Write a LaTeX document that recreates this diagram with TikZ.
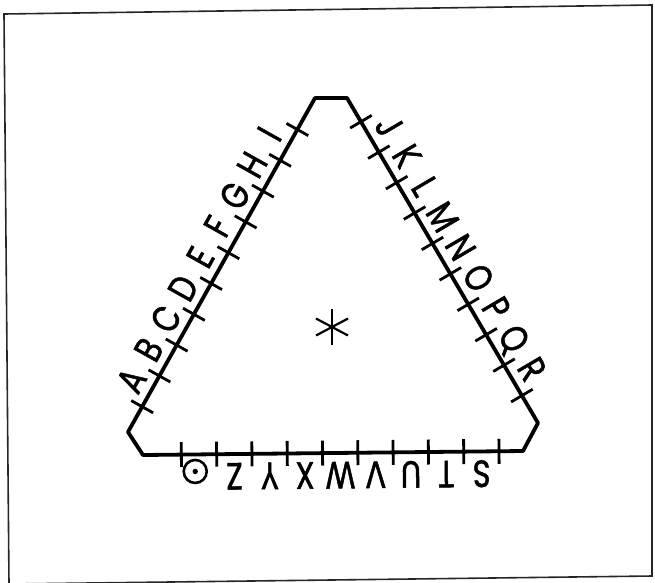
\documentclass[tikz,border=0pt]{standalone}
\usepackage{fontspec}
\setmainfont{Poppins}[FakeStretch=0.8, FakeBold=1.3]
\usetikzlibrary{calc}
\begin{document}
\begin{tikzpicture}[x=1pt,y=-1pt,
  outline/.style={line width=3.8pt, line join=round, line cap=round},
  tickmark/.style={line width=2.8pt},
  lbl/.style={anchor=base, inner sep=0pt, font=\fontsize{38}{38}\selectfont},
  framebox/.style={line width=1.6pt, draw=black!85},
  astline/.style={line width=2.2pt}]
\useasboundingbox (0,0) rectangle (655,582);
\draw[framebox] (4,14) -- (652,5) -- (652,576) -- (9,584) -- cycle;
% truncated triangle
\coordinate (P1) at (128,432);
\coordinate (P2) at (315,98);
\coordinate (P3) at (347,98);
\coordinate (P4) at (538,423);
\coordinate (P5) at (523,451);
\coordinate (P6) at (143,455);
\draw[outline] (P1) -- (P2) -- (P3) -- (P4) -- (P5) -- (P6) -- cycle;
% ticks
\foreach \k in {0,...,9} {
  \pgfmathsetmacro\da{29+35.3*\k}
  \pgfmathsetmacro\db{27.5+35.3*\k}
  \pgfmathsetmacro\dc{24+35.3*\k}
  \coordinate (ta) at ($(P1)!\da pt!(P2)$);
  \coordinate (tb) at ($(P3)!\db pt!(P4)$);
  \coordinate (tc) at ($(P5)!\dc pt!(P6)$);
  \draw[tickmark] ($(ta)!12.5pt!90:(P2)$) -- ($(ta)!12.5pt!-90:(P2)$);
  \draw[tickmark] ($(tb)!12.5pt!90:(P4)$) -- ($(tb)!12.5pt!-90:(P4)$);
  \draw[tickmark] ($(tc)!12.5pt!90:(P6)$) -- ($(tc)!12.5pt!-90:(P6)$);
}
% left side letters
\foreach \L [count=\i from 0] in {A,B,C,D,E,F,G,H,I} {
  \pgfmathsetmacro\d{29+35.3*(\i+0.5)}
  \coordinate (m) at ($(P1)!\d pt!(P2)$);
  \node[lbl, rotate=60.75] (lab\L) at ($(m)!9pt!90:(P2)$) {\L};
}
% right side letters
\foreach \L [count=\i from 0] in {J,K,L,M,N,O,P,Q,R} {
  \pgfmathsetmacro\d{27.5+35.3*(\i+0.5)}
  \coordinate (m) at ($(P3)!\d pt!(P4)$);
  \node[lbl, rotate=-59.56] (lab\L) at ($(m)!9pt!90:(P4)$) {\L};
}
% bottom letters
\foreach \L [count=\i from 0] in {S,T,U,V,W,X,Y,Z} {
  \pgfmathsetmacro\d{24+35.3*(\i+0.5)}
  \coordinate (m) at ($(P5)!\d pt!(P6)$);
  \node[lbl, rotate=180.6] (lab\L) at ($(m)!9pt!90:(P6)$) {\L};
}
\coordinate (mo) at ($(P5)!328pt!(P6)$);
\node[circle, draw, line width=2.6pt, minimum size=23pt, inner sep=0pt] (labO) at ($(mo)!17pt!90:(P6)$) {};
\fill (labO.center) circle (2.7pt);
% asterisk
\coordinate (ast) at (332,327);
\draw[astline] ($(ast)+(0,-18)$) -- ($(ast)+(0,18)$);
\draw[astline] ($(ast)+(-16,-8.5)$) -- ($(ast)+(16,8.5)$);
\draw[astline] ($(ast)+(-16,8.5)$) -- ($(ast)+(16,-8.5)$);
\end{tikzpicture}
\end{document}
